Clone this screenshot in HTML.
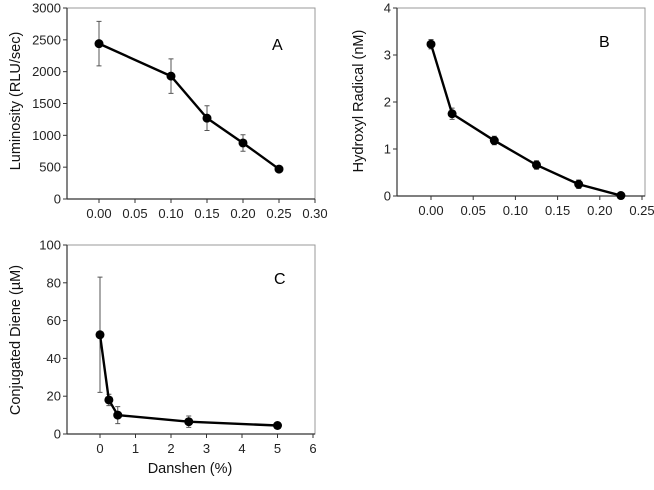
<!DOCTYPE html>
<html><head><meta charset="utf-8">
<style>
body{margin:0;background:#fff;}
svg{display:block;font-family:"Liberation Sans",Arial,sans-serif;}
</style></head>
<body>
<svg id="c" width="654" height="490" viewBox="0 0 654 490"></svg>
<script>
// Panel A data
const aX=[0,0.10,0.15,0.20,0.25];
const aY=[2440,1930,1270,880,470];
const aErr=[350,270,195,130,40];
const aXTicks=[0,0.05,0.10,0.15,0.20,0.25,0.30];
const aYTicks=[0,500,1000,1500,2000,2500,3000];
// Panel B data
const bX=[0,0.025,0.075,0.125,0.175,0.225];
const bY=[3.23,1.75,1.18,0.66,0.25,0.01];
const bErr=[0.1,0.12,0.09,0.09,0.09,0.03];
const bXTicks=[0,0.05,0.10,0.15,0.20,0.25];
const bYTicks=[0,1,2,3,4];
// Panel C data
const cX=[0,0.25,0.5,2.5,5];
const cY=[52.5,18,10,6.5,4.5];
const cErr=[30.5,3,4.5,3,1.5];
const cXTicks=[0,1,2,3,4,5,6];
const cYTicks=[0,20,40,60,80,100];

const NS="http://www.w3.org/2000/svg";
const svg=document.getElementById('c');
function el(t,a,p){const e=document.createElementNS(NS,t);for(const k in a)e.setAttribute(k,a[k]);(p||svg).appendChild(e);return e;}

function panel(o){
  const g=el('g',{});
  
  
  const sx=v=>o.x0+(v-o.xmin)*o.xs;
  const sy=v=>o.y0-(v/o.ymax)*(o.y0-o.top);
  const fr=el('rect',{x:o.left,y:o.top,width:o.right-o.left,height:o.y0-o.top,fill:'none',stroke:'#999','stroke-width':1},g);
  
  
  el('line',{x1:o.left,y1:o.top,x2:o.left,y2:o.y0,stroke:'#333','stroke-width':1.2},g);
  el('line',{x1:o.left,y1:o.y0,x2:o.right,y2:o.y0,stroke:'#333','stroke-width':1.2},g);
  o.yt.forEach(v=>{
    el('line',{x1:o.left-4,y1:sy(v),x2:o.left,y2:sy(v),stroke:'#333'},g);
    const t=el('text',{x:o.left-6,y:sy(v)+4.5,'text-anchor':'end','font-size':13,fill:'#222'},g);
    t.textContent=o.yf(v);
    
    
  });
  o.xt.forEach(v=>{
    el('line',{x1:sx(v),y1:o.y0,x2:sx(v),y2:o.y0+4,stroke:'#333'},g);
    const t=el('text',{x:sx(v),y:o.y0+19,'text-anchor':'middle','font-size':13,fill:'#222'},g);
    t.textContent=o.xf(v);
    
    
  });
  o.xs_.forEach((v,i)=>{
    const x=sx(v),e=o.err[i];
    const eb=el('path',{d:`M${x},${sy(o.ys[i]-e)}V${sy(o.ys[i]+e)}M${x-2.5},${sy(o.ys[i]-e)}h5M${x-2.5},${sy(o.ys[i]+e)}h5`,stroke:'#555','stroke-width':1,fill:'none'},g);
    
    
  });
  const ln=el('polyline',{points:o.xs_.map((v,i)=>sx(v)+','+sy(o.ys[i])).join(' '),fill:'none',stroke:'#000','stroke-width':2.4},g);
  
  
  o.xs_.forEach((v,i)=>{
    const p=el('circle',{cx:sx(v),cy:sy(o.ys[i]),r:4.5,fill:'#000'},g);
    
    
  });
  const L=el('text',{x:o.lx,y:o.ly,'font-size':16,fill:'#000'},g);
  L.textContent=o.id;
  
  
  const yl=el('text',{x:0,y:0,'text-anchor':'middle','font-size':14.5,fill:'#111',transform:`translate(${o.ylx},${o.yly}) rotate(-90)`},g);
  yl.textContent=o.ylab;
  
  
}

panel({id:'A',left:67,right:315,top:8,y0:199,x0:99,xmin:0,xs:720,ymax:3000,
  xt:aXTicks,yt:aYTicks,xs_:aX,ys:aY,err:aErr,xf:v=>v.toFixed(2),yf:v=>v,
  lx:272,ly:50,ylab:'Luminosity (RLU/sec)',ylx:20,yly:101});
panel({id:'B',left:397,right:645,top:8,y0:196,x0:431,xmin:0,xs:844,ymax:4,
  xt:bXTicks,yt:bYTicks,xs_:bX,ys:bY,err:bErr,xf:v=>v.toFixed(2),yf:v=>v,
  lx:599,ly:47,ylab:'Hydroxyl Radical (nM)',ylx:363,yly:101});
panel({id:'C',left:67,right:315,top:245,y0:434,x0:100,xmin:0,xs:35.5,ymax:100,
  xt:cXTicks,yt:cYTicks,xs_:cX,ys:cY,err:cErr,xf:v=>v,yf:v=>v,
  lx:274,ly:284,ylab:'Conjugated Diene (\u00B5M)',ylx:20,yly:340});
const xl=el('text',{x:190,y:473,'text-anchor':'middle','font-size':14.5,fill:'#111'});
xl.textContent='Danshen (%)';


</script>
</body></html>
